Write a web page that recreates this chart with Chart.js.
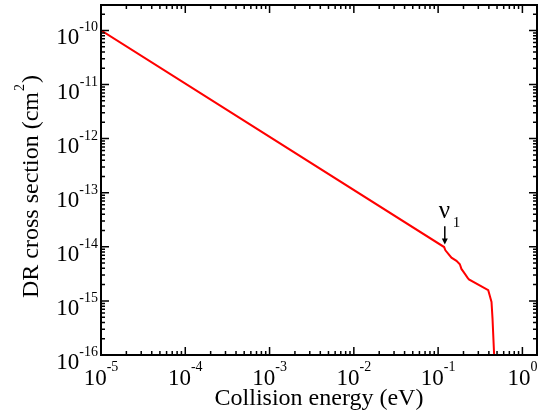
<!DOCTYPE html>
<html>
<head>
<meta charset="utf-8">
<script src="https://cdn.jsdelivr.net/npm/chart.js@4.4.1/dist/chart.umd.min.js"></script>
<style>
  html, body { margin: 0; padding: 0; background: #fff; }
  canvas { display: block; }
</style>
</head>
<body>
<canvas id="drChart" width="551" height="415"></canvas>
<script>
// collision energy (eV) and DR cross section (cm^2)
const energy = [1e-5, 0.1178, 0.122, 0.144, 0.165, 0.181, 0.189, 0.207, 0.223, 0.232,
                0.393, 0.411, 0.430, 0.442, 0.462, 0.463];
const crossSection = [1.0e-10, 9.9e-15, 8.6e-15, 6.3e-15, 5.5e-15, 4.75e-15, 3.9e-15, 3.2e-15, 2.7e-15, 2.5e-15,
                      1.58e-15, 1.23e-15, 9.6e-16, 4.7e-16, 1.0e-16, 5e-17];

const xDecades = [-5, -4, -3, -2, -1, 0];
const yDecades = [-16, -15, -14, -13, -12, -11, -10];

const xTitle = 'Collision energy (eV)';
const yTitle = 'DR cross section (cm';

// resonance marker
const nuLabel = 'ν';
const nuSub = '1';
const nuEnergy = 0.12;
const arrowFrom = 2.4e-14;
const arrowTo = 1.1e-14;

const serif = '"Liberation Serif", "DejaVu Serif", serif';

const framePlugin = {
    id: 'frame',
    afterDraw(chart) {
        const c = chart.ctx;
        const xs = chart.scales.x;
        const ys = chart.scales.y;
        const a = chart.chartArea;

        c.save();
        c.strokeStyle = '#000';
        c.fillStyle = '#000';

        // ticks on all four sides, pointing inward
        c.lineWidth = 1.5;
        const tick = (v, len, horizontal) => {
            if (horizontal) {
                const px = xs.getPixelForValue(v);
                if (px < a.left + 1 || px > a.right - 1) return;
                c.beginPath();
                c.moveTo(px, a.bottom); c.lineTo(px, a.bottom - len);
                c.moveTo(px, a.top); c.lineTo(px, a.top + len);
                c.stroke();
            } else {
                const py = ys.getPixelForValue(v);
                if (py < a.top + 1 || py > a.bottom - 1) return;
                c.beginPath();
                c.moveTo(a.left, py); c.lineTo(a.left + len, py);
                c.moveTo(a.right, py); c.lineTo(a.right - len, py);
                c.stroke();
            }
        };
        xDecades.forEach(d => {
            tick(Math.pow(10, d), 8, true);
            for (let m = 2; m < 10; m++) tick(m * Math.pow(10, d), 4, true);
        });
        yDecades.forEach(d => {
            tick(Math.pow(10, d), 8, false);
            for (let m = 2; m < 10; m++) tick(m * Math.pow(10, d), 4, false);
        });

        // frame
        c.lineWidth = 2;
        c.strokeRect(a.left, a.top, a.right - a.left, a.bottom - a.top);

        // power-of-ten labels
        const base = '23px ' + serif;
        const sup = '14px ' + serif;
        const pow = (d, x, y, align, rise) => {
            c.font = base;
            const w1 = c.measureText('10').width;
            c.font = sup;
            const e = String(d);
            const w2 = c.measureText(e).width;
            const x0 = align === 'center' ? x - (w1 + w2) / 2 : x - (w1 + w2);
            c.textAlign = 'left';
            c.textBaseline = 'alphabetic';
            c.font = base;
            c.fillText('10', x0, y);
            c.font = sup;
            c.fillText(e, x0 + w1, y - rise);
        };
        xDecades.forEach(d => {
            pow(d, xs.getPixelForValue(Math.pow(10, d)), a.bottom + 30, 'center', 14);
        });
        yDecades.forEach(d => {
            pow(d, a.left - 3, ys.getPixelForValue(Math.pow(10, d)) + 14, 'right', 13);
        });

        // axis titles
        const titleFont = '24px ' + serif;
        c.font = titleFont;
        c.textAlign = 'center';
        c.fillText(xTitle, (a.left + a.right) / 2, a.bottom + 50);

        c.save();
        c.translate(38, 298);
        c.rotate(-Math.PI / 2);
        c.textAlign = 'left';
        c.font = titleFont;
        const wt = c.measureText(yTitle).width;
        c.fillText(yTitle, 0, 0);
        c.font = sup;
        const w2 = c.measureText('2').width;
        c.fillText('2', wt + 1, -14);
        c.font = titleFont;
        c.fillText(')', wt + w2 + 2, 0);
        c.restore();

        // nu_1 marker with arrow
        const ax = xs.getPixelForValue(nuEnergy);
        const y1 = ys.getPixelForValue(arrowFrom);
        const y2 = ys.getPixelForValue(arrowTo);
        c.lineWidth = 1.5;
        c.beginPath();
        c.moveTo(ax, y1); c.lineTo(ax, y2 - 5);
        c.stroke();
        c.beginPath();
        c.moveTo(ax - 3, y2 - 6); c.lineTo(ax + 3, y2 - 6); c.lineTo(ax, y2);
        c.closePath();
        c.fill();
        c.font = '25px ' + serif;
        c.textAlign = 'left';
        c.fillText(nuLabel, ax - 6, y1 - 8);
        c.font = '15px ' + serif;
        c.fillText(nuSub, ax + 8, y1 + 1);

        c.restore();
    }
};

new Chart(document.getElementById('drChart'), {
    type: 'line',
    data: {
        datasets: [{
            data: energy.map((e, i) => ({ x: e, y: crossSection[i] })),
            borderColor: '#ff0000',
            borderWidth: 2,
            pointRadius: 0,
            tension: 0,
            fill: false
        }]
    },
    options: {
        responsive: false,
        animation: false,
        layout: { padding: { left: 101, top: 5, right: 14, bottom: 60 } },
        plugins: { legend: { display: false }, tooltip: { enabled: false } },
        scales: {
            x: { type: 'logarithmic', min: 1e-5, max: 1.49, display: false },
            y: { type: 'logarithmic', min: 1e-16, max: 2.95e-10, display: false }
        }
    },
    plugins: [framePlugin]
});
</script>
</body>
</html>
